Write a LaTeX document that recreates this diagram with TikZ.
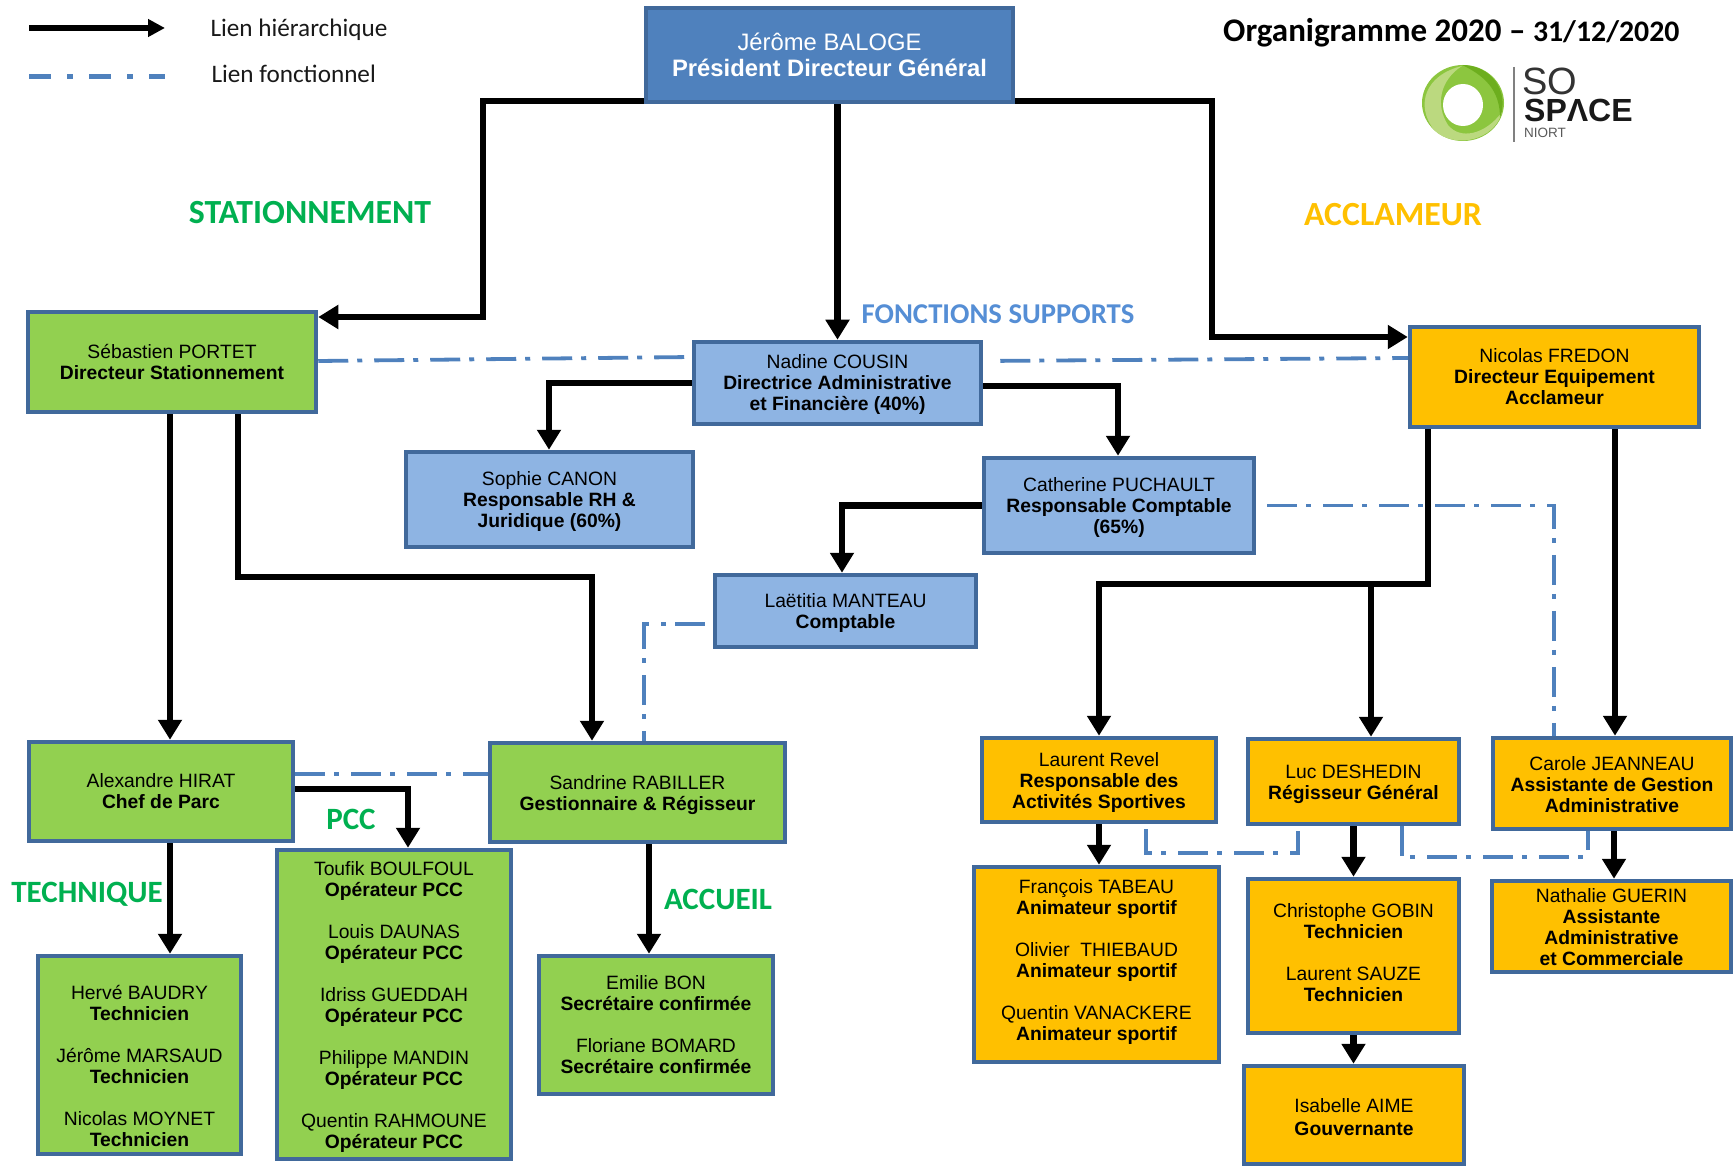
\documentclass[tikz,border=0pt]{standalone}
\usepackage{fontspec}
\setmainfont{Liberation Sans}
\newfontfamily\carl{Carlito}
\usetikzlibrary{arrows.meta,calc}
\definecolor{bord}{HTML}{41699B}
\definecolor{vert}{HTML}{92D050}
\definecolor{oran}{HTML}{FFC000}
\definecolor{bleu}{HTML}{8EB4E3}
\definecolor{bleuf}{HTML}{4F81BD}
\definecolor{fonc}{HTML}{4F81BD}
\definecolor{gvert}{HTML}{00B050}
\definecolor{gsup}{HTML}{558ED5}
\definecolor{logoa}{HTML}{8CC63F}
\definecolor{logob}{HTML}{BBD97F}
\definecolor{logoc}{HTML}{6DAE1E}
\newcommand\dnt[1]{\rule{0pt}{\dimexpr 9.8pt + #1pt*2\relax}\\[-17pt]}
\tikzset{
  x=1pt,y=-1pt,
  basebox/.style={draw=bord,line width=4.5pt,rectangle,inner sep=0pt,align=center,font=\fontsize{19.3}{21}\selectfont,text=black},
  gbox/.style={basebox,fill=vert},
  obox/.style={basebox,fill=oran},
  bbox/.style={basebox,fill=bleu},
  topbox/.style={basebox,fill=bleuf,text=white,font=\fontsize{23.8}{26}\selectfont},
  dim/.style 2 args={minimum width=#1pt,minimum height=#2pt},
  hier/.style={draw=black,line width=6.3pt,-{Triangle[width=23pt,length=20pt]},line join=miter},
  fonct/.style={draw=fonc,line width=3.8pt,dash pattern=on 30pt off 9pt on 5pt off 12pt},
  sect/.style={font=\carl\bfseries\fontsize{33.8}{36}\selectfont},
  sectb/.style={font=\carl\bfseries\fontsize{31}{33}\selectfont},
  legtxt/.style={font=\carl\fontsize{25.2}{27}\selectfont,anchor=west,text=black!90},
}
\begin{document}
\begin{tikzpicture}
\useasboundingbox (0,0) rectangle (1733,1166);
% boxes
\node[topbox,dim={367}{94}] (top) at (829.5,55) {Jérôme BALOGE\\\textbf{Président Directeur Général}};
\node[gbox,dim={288}{100}] (seb) at (172,362) {Sébastien PORTET\\\textbf{Directeur Stationnement}};
\node[bbox,dim={287}{82}] (nad) at (837.5,383) {\dnt{2}Nadine COUSIN\\\textbf{Directrice Administrative}\\\textbf{et Financière (40\%)}};
\node[obox,dim={289}{100}] (nic) at (1554.5,377) {Nicolas FREDON\\\textbf{Directeur Equipement}\\\textbf{Acclameur}};
\node[bbox,dim={287}{95}] (sop) at (549.5,499.5) {\dnt{2}Sophie CANON\\\textbf{Responsable RH \&}\\\textbf{Juridique (60\%)}};
\node[bbox,dim={270}{95}] (cat) at (1119,505.5) {\dnt{2}Catherine PUCHAULT\\\textbf{Responsable Comptable}\\\textbf{(65\%)}};
\node[bbox,dim={261}{72}] (lae) at (845.5,611) {\dnt{2}Laëtitia MANTEAU\\\textbf{Comptable}};
\node[gbox,dim={264}{99}] (ale) at (161,791.5) {Alexandre HIRAT\\\textbf{Chef de Parc}};
\node[gbox,dim={295}{99}] (san) at (637.5,792.5) {\dnt{3}Sandrine RABILLER\\\textbf{Gestionnaire \& Régisseur}};
\node[gbox,dim={234}{309}] (pcc) at (394,1004.5) {\dnt{3}Toufik BOULFOUL\\\textbf{Opérateur PCC}\\[21pt]Louis DAUNAS\\\textbf{Opérateur PCC}\\[21pt]Idriss GUEDDAH\\\textbf{Opérateur PCC}\\[21pt]Philippe MANDIN\\\textbf{Opérateur PCC}\\[21pt]Quentin RAHMOUNE\\\textbf{Opérateur PCC}};
\node[gbox,dim={203}{198}] (her) at (139.5,1055) {\dnt{11}Hervé BAUDRY\\\textbf{Technicien}\\[21pt]Jérôme MARSAUD\\\textbf{Technicien}\\[21pt]Nicolas MOYNET\\\textbf{Technicien}};
\node[gbox,dim={234}{138}] (emi) at (656,1025) {Emilie BON\\\textbf{Secrétaire confirmée}\\[21pt]Floriane BOMARD\\\textbf{Secrétaire confirmée}};
\node[obox,dim={234}{84}] (lau) at (1099,780) {\dnt{3}Laurent Revel\\\textbf{Responsable des}\\\textbf{Activités Sportives}};
\node[obox,dim={211}{85}] (luc) at (1353.5,781.5) {\dnt{3}Luc DESHEDIN\\\textbf{Régisseur Général}};
\node[obox,dim={238}{91}] (car) at (1612,783.5) {\dnt{1}Carole JEANNEAU\\\textbf{Assistante de Gestion}\\\textbf{Administrative}};
\node[obox,dim={245}{195}] (fra) at (1096.5,964.5) {\dnt{-2}François TABEAU\\\textbf{Animateur sportif}\\[21pt]Olivier~~THIEBAUD\\\textbf{Animateur sportif}\\[21pt]Quentin VANACKERE\\\textbf{Animateur sportif}};
\node[obox,dim={211}{154}] (chr) at (1353.5,956) {\dnt{-3}Christophe GOBIN\\\textbf{Technicien}\\[21pt]Laurent SAUZE\\\textbf{Technicien}};
\node[obox,dim={220}{98}] (isa) at (1354,1115) {\dnt{2}Isabelle AIME\\[2pt]\textbf{Gouvernante}};
\node[obox,dim={239}{91}] (nat) at (1611.5,926.5) {\dnt{1}Nathalie GUERIN\\\textbf{Assistante}\\\textbf{Administrative}\\\textbf{et Commerciale}};
% hierarchical links
\coordinate (jl) at (1371,584);
\draw[hier] (top.west |- 0,101) -- (483,101) -- (483,317) -- (seb.east |- 0,317);
\draw[hier] (top.south -| nad.north) -- (nad.north);
\draw[hier] (top.east |- 0,101) -- (1212,101) -- (1212,337) -- (nic.west |- 0,337);
\draw[hier] (nad.west) -- (nad.west -| 549,0) -- (sop.north -| 549,0);
\draw[hier] (nad.east |- 0,386) -- (1118,386) -- (cat.north -| 1118,0);
\draw[hier] (cat.west) -- (cat.west -| 842,0) -- (lae.north -| 842,0);
\draw[hier] (seb.south -| 170,0) -- (ale.north -| 170,0);
\draw[hier] (seb.south -| 238,0) -- (238,577) -- (592,577) -- (san.north -| 592,0);
\draw[hier] (ale.east |- 0,789) -- (408,789) -- (pcc.north -| 408,0);
\draw[hier] (ale.south -| 170,0) -- (her.north -| 170,0);
\draw[hier] (san.south -| 649,0) -- (emi.north -| 649,0);
\draw[hier] (nic.south -| 1428,0) -- (1428,584) -- (1099,584) -- (lau.north);
\draw[hier] (jl) -- (luc.north -| jl);
\draw[hier] (nic.south -| 1615,0) -- (car.north -| 1615,0);
\draw[hier] (lau.south) -- (fra.north -| lau.south);
\draw[hier] (luc.south) -- (chr.north);
\draw[hier] (chr.south) -- (isa.north -| chr.south);
\draw[hier] (car.south -| 1614,0) -- (nat.north -| 1614,0);
% functional links
\draw[fonct] (seb.east |- 0,361) -- (nad.west |- 0,357);
\draw[fonct,shorten <=17pt] (nad.east |- 0,361) -- (nic.west |- 0,358);
\draw[fonct,shorten <=11pt] (cat.east) -- (cat.east -| 1554,0) -- (car.north -| 1554,0);
\draw[fonct,shorten <=8pt] (lae.west |- 0,624) -- (644,624) -- (san.north -| 644,0);
\draw[fonct] (ale.east |- 0,774) -- (san.west |- 0,774);
\draw[fonct,shorten <=5pt] (lau.south -| 1146,0) -- (1146,853) -- (1298,853) -- (luc.south -| 1298,0);
\draw[fonct] (luc.south -| 1402,0) -- (1402,857) -- (1588,857) -- (car.south -| 1588,0);
% legend
\coordinate (la) at (29,28); \coordinate (lb) at (165,28);
\coordinate (lc) at (29,77); \coordinate (ld) at (165,77);
\draw[black,line width=6pt,-{Triangle[width=17pt,length=17pt]}] (la) -- (lb);
\draw[fonc,line width=5pt,dash pattern=on 22pt off 16pt on 6pt off 16pt] (lc) -- (ld);
\node[legtxt] (l1) at (207,30) {Lien hiérarchique};
\node[legtxt] (l2) at (208,74) {Lien fonctionnel};
% section labels
\node[sect,text=gvert] (s1) at (310,213) {STATIONNEMENT};
\node[sect,text=oran] (s2) at (1393,215) {ACCLAMEUR};
\node[text=gsup,font=\carl\bfseries\fontsize{28.7}{30}\selectfont] (s3) at (998,314) {FONCTIONS SUPPORTS};
\node[sectb,text=gvert] (s4) at (351,819) {PCC};
\node[sectb,text=gvert] (s5) at (87,894) {TECHNIQUE};
\node[sectb,text=gvert] (s6) at (718,899) {ACCUEIL};
% title
\node[font=\carl\bfseries\fontsize{33}{35}\selectfont,anchor=west,inner sep=0pt] (ti) at (1223,33) {Organigramme 2020 – {\fontsize{29.8}{31}\selectfont 31/12/2020}};
% logo
\fill[logoa] (1463,103) ellipse [x radius=41,y radius=38];
\fill[logob] (1434,130) .. controls (1415,105) and (1425,75) .. (1462,66) .. controls (1440,80) and (1435,105) .. (1448,125) .. controls (1460,140) and (1485,135) .. (1502,112) .. controls (1495,140) and (1455,150) .. (1434,130);
\fill[logoc] (1462,65) .. controls (1490,65) and (1510,90) .. (1500,118) .. controls (1500,95) and (1490,78) .. (1462,65);
\fill[white] (1463,105) ellipse [x radius=20,y radius=21];
\draw[gray,line width=1.5pt] (1514,67) -- (1514,142);
\node[font=\fontsize{38}{38}\selectfont,anchor=south west,inner sep=0pt,text=black!80,text height=27pt,text depth=0pt] (so) at (1522,95) {SO};
\node[font=\bfseries\fontsize{32}{32}\selectfont,anchor=south west,inner sep=0pt,text=black!90,text height=23pt,text depth=0pt] (sp) at (1524,122) {SPΛCE};
\node[font=\fontsize{13.5}{14}\selectfont,anchor=west,inner sep=0pt,text=black!65] (ni) at (1524,133) {NIORT};
\end{tikzpicture}
\end{document}
